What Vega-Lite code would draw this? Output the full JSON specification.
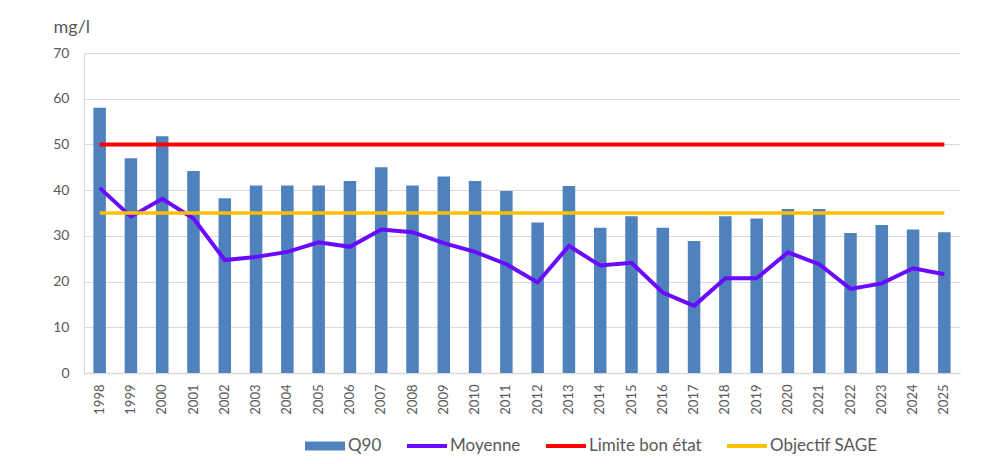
{
  "$schema": "https://vega.github.io/schema/vega-lite/v6.json",
  "width": 876,
  "height": 320,
  "autosize": {"type": "none"},
  "padding": {"left": 84, "top": 53, "right": 29, "bottom": 91},
  "background": "white",
  "config": {
    "font": "Lato",
    "view": {"stroke": null},
    "axis": {"labelColor": "#595959", "labelFont": "Lato", "titleFont": "Lato"}
  },
  "data": {
    "values": [
      {"year": "1998", "Q90": 58, "Moyenne": 40.5, "Limite": 50, "Objectif": 35},
      {"year": "1999", "Q90": 47, "Moyenne": 34.2, "Limite": 50, "Objectif": 35},
      {"year": "2000", "Q90": 51.8, "Moyenne": 38.1, "Limite": 50, "Objectif": 35},
      {"year": "2001", "Q90": 44.2, "Moyenne": 33.8, "Limite": 50, "Objectif": 35},
      {"year": "2002", "Q90": 38.2, "Moyenne": 24.7, "Limite": 50, "Objectif": 35},
      {"year": "2003", "Q90": 41, "Moyenne": 25.4, "Limite": 50, "Objectif": 35},
      {"year": "2004", "Q90": 41, "Moyenne": 26.5, "Limite": 50, "Objectif": 35},
      {"year": "2005", "Q90": 41, "Moyenne": 28.6, "Limite": 50, "Objectif": 35},
      {"year": "2006", "Q90": 42, "Moyenne": 27.6, "Limite": 50, "Objectif": 35},
      {"year": "2007", "Q90": 45, "Moyenne": 31.4, "Limite": 50, "Objectif": 35},
      {"year": "2008", "Q90": 41, "Moyenne": 30.8, "Limite": 50, "Objectif": 35},
      {"year": "2009", "Q90": 43, "Moyenne": 28.4, "Limite": 50, "Objectif": 35},
      {"year": "2010", "Q90": 42, "Moyenne": 26.5, "Limite": 50, "Objectif": 35},
      {"year": "2011", "Q90": 39.8, "Moyenne": 23.8, "Limite": 50, "Objectif": 35},
      {"year": "2012", "Q90": 32.9, "Moyenne": 19.8, "Limite": 50, "Objectif": 35},
      {"year": "2013", "Q90": 40.9, "Moyenne": 27.8, "Limite": 50, "Objectif": 35},
      {"year": "2014", "Q90": 31.8, "Moyenne": 23.5, "Limite": 50, "Objectif": 35},
      {"year": "2015", "Q90": 34.3, "Moyenne": 24.1, "Limite": 50, "Objectif": 35},
      {"year": "2016", "Q90": 31.8, "Moyenne": 17.6, "Limite": 50, "Objectif": 35},
      {"year": "2017", "Q90": 28.9, "Moyenne": 14.7, "Limite": 50, "Objectif": 35},
      {"year": "2018", "Q90": 34.3, "Moyenne": 20.7, "Limite": 50, "Objectif": 35},
      {"year": "2019", "Q90": 33.8, "Moyenne": 20.7, "Limite": 50, "Objectif": 35},
      {"year": "2020", "Q90": 35.9, "Moyenne": 26.4, "Limite": 50, "Objectif": 35},
      {"year": "2021", "Q90": 35.9, "Moyenne": 23.8, "Limite": 50, "Objectif": 35},
      {"year": "2022", "Q90": 30.6, "Moyenne": 18.4, "Limite": 50, "Objectif": 35},
      {"year": "2023", "Q90": 32.4, "Moyenne": 19.6, "Limite": 50, "Objectif": 35},
      {"year": "2024", "Q90": 31.4, "Moyenne": 22.9, "Limite": 50, "Objectif": 35},
      {"year": "2025", "Q90": 30.8, "Moyenne": 21.6, "Limite": 50, "Objectif": 35}
    ]
  },
  "encoding": {
    "x": {
      "field": "year",
      "type": "nominal",
      "sort": null,
      "scale": {"paddingInner": 0.6, "paddingOuter": 0.3},
      "axis": {
        "title": null,
        "labelAngle": -90,
        "labelFontSize": 13,
        "labelPadding": 11,
        "ticks": false,
        "domainColor": "#D9D9D9",
        "domainWidth": 1.5
      }
    }
  },
  "layer": [
    {
      "mark": {"type": "bar"},
      "encoding": {
        "y": {
          "field": "Q90",
          "type": "quantitative",
          "scale": {"domain": [0, 70]},
          "axis": {
            "values": [0, 10, 20, 30, 40, 50, 60, 70],
            "title": "mg/l",
            "titleAngle": 0,
            "titleAlign": "left",
            "titleBaseline": "alphabetic",
            "titleX": -31,
            "titleY": -21,
            "titleFontSize": 18,
            "titleFontWeight": "normal",
            "titleColor": "#595959",
            "labelFontSize": 14,
            "labelPadding": 15,
            "ticks": false,
            "domainColor": "#D9D9D9",
            "gridColor": "#D9D9D9",
            "gridWidth": 1.2
          }
        },
        "color": {
          "datum": "Q90",
          "type": "nominal",
          "scale": {
            "domain": ["Q90", "Moyenne", "Limite bon état", "Objectif SAGE"],
            "range": ["#4F81BD", "#6A0AFF", "#FF0000", "#FFC000"]
          },
          "legend": {
            "title": null,
            "orient": "none",
            "legendX": 221,
            "legendY": 373,
            "direction": "horizontal",
            "symbolType": "M-1,-0.1H1V0.1H-1Z",
            "symbolSize": 1600,
            "symbolStrokeWidth": 0,
            "labelFontSize": 17,
            "labelColor": "#595959",
            "labelOffset": 3,
            "columnPadding": 25,
            "encode": {
              "symbols": {
                "update": {
                  "fill": {"scale": "color", "field": "value"},
                  "fillOpacity": {"value": 1},
                  "stroke": {"value": "transparent"},
                  "shape": {"signal": "datum.value === 'Q90' ? 'M-1,-0.23H1V0.23H-1Z' : 'M-1,-0.1H1V0.1H-1Z'"}
                }
              }
            }
          }
        }
      }
    },
    {
      "mark": {"type": "line", "strokeWidth": 4},
      "encoding": {
        "y": {"field": "Moyenne", "type": "quantitative"},
        "color": {"datum": "Moyenne", "type": "nominal"}
      }
    },
    {
      "mark": {"type": "line", "strokeWidth": 4},
      "encoding": {
        "y": {"field": "Limite", "type": "quantitative"},
        "color": {"datum": "Limite bon état", "type": "nominal"}
      }
    },
    {
      "mark": {"type": "line", "strokeWidth": 3.5},
      "encoding": {
        "y": {"field": "Objectif", "type": "quantitative"},
        "color": {"datum": "Objectif SAGE", "type": "nominal"}
      }
    }
  ]
}
